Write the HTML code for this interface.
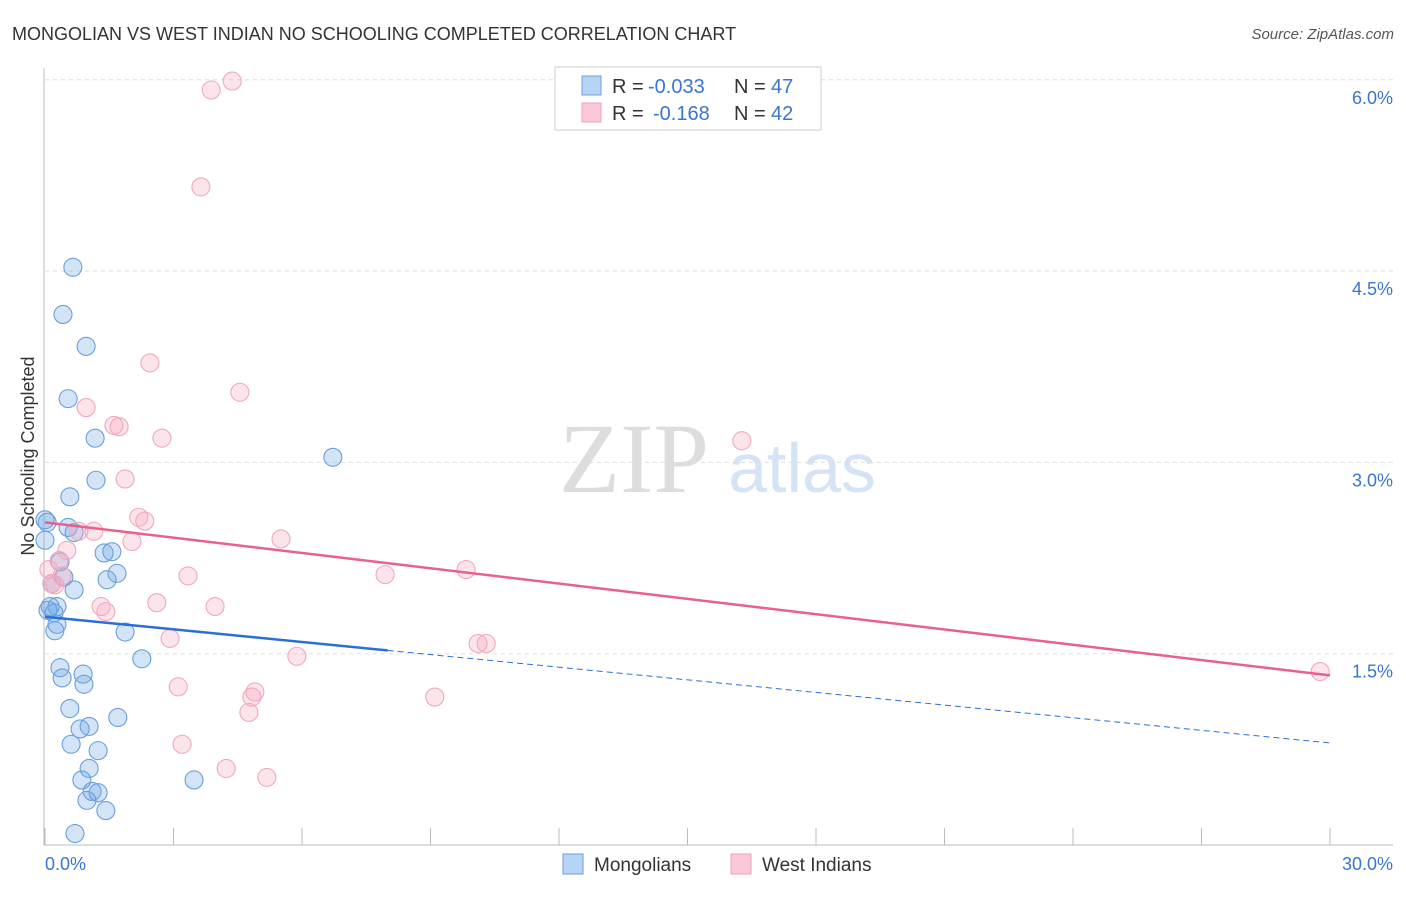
<!DOCTYPE html>
<html><head><meta charset="utf-8"><style>
body{margin:0;background:#fff;font-family:"Liberation Sans",sans-serif;}
svg text{font-family:"Liberation Sans",sans-serif;}
</style></head><body>
<svg id="chart" width="1406" height="892" xmlns="http://www.w3.org/2000/svg">
<text x="12" y="40" font-size="18" fill="#333">MONGOLIAN VS WEST INDIAN NO SCHOOLING COMPLETED CORRELATION CHART</text>
<text x="1394" y="39" font-size="15" fill="#555" font-style="italic" text-anchor="end">Source: ZipAtlas.com</text>
<text x="634" y="492" font-size="100" fill="#ddd" style="font-family:'Liberation Serif',serif" text-anchor="middle">ZIP</text>
<text x="802" y="492" font-size="70" fill="#d4e3f6" text-anchor="middle">atlas</text>
<text transform="translate(34,456) rotate(-90)" font-size="18" fill="#333" text-anchor="middle">No Schooling Completed</text>
<g id="grid"></g><g id="pts"></g><g id="trend"></g>
<g>
<rect x="555" y="67" width="266" height="63" fill="#fff" stroke="#ccc"/>
<rect x="582" y="76" width="19" height="19" fill="#b8d4f5" stroke="#6a9fdc"/>
<rect x="582" y="103" width="19" height="19" fill="#fac8d8" stroke="#eea0b8"/>
<text x="612" y="93" font-size="20" fill="#333">R =</text>
<text x="648" y="93" font-size="20" fill="#3a75d0">-0.033</text>
<text x="734" y="93" font-size="20" fill="#333">N =</text>
<text x="771" y="93" font-size="20" fill="#3a75d0">47</text>
<text x="612" y="120" font-size="20" fill="#333">R =</text>
<text x="653" y="120" font-size="20" fill="#3a75d0">-0.168</text>
<text x="734" y="120" font-size="20" fill="#333">N =</text>
<text x="771" y="120" font-size="20" fill="#3a75d0">42</text>
</g>
<g>
<rect x="563" y="854" width="20" height="20" fill="#b8d4f5" stroke="#6a9fdc"/>
<text x="594" y="871" font-size="19" fill="#333">Mongolians</text>
<rect x="731" y="854" width="20" height="20" fill="#fac8d8" stroke="#eea0b8"/>
<text x="762" y="871" font-size="19" fill="#333">West Indians</text>
</g>
</svg>
<script>
const yTicks=[1.5,3.0,4.5,6.0];
const yTickLabels=["1.5%","3.0%","4.5%","6.0%"];
const xTickLabels=["0.0%","30.0%"];
const mongX=[0.65,0.42,0.96,0.54,1.17,6.72,1.19,0.58,0.05,0.54,0.68,0.0,1.38,1.56,0.35,1.68,0.44,1.45,0.16,0.68,0.12,0.28,0.21,0.28,0.23,1.87,2.26,0.35,0.89,0.40,0.91,0.58,1.70,0.82,1.03,0.61,1.24,1.03,0.86,3.48,1.10,1.24,0.98,1.42,0.70,0.0,0.07];
const mongY=[4.53,4.16,3.91,3.50,3.19,3.04,2.86,2.73,2.53,2.49,2.45,2.39,2.29,2.30,2.22,2.13,2.10,2.08,2.05,2.00,1.87,1.87,1.82,1.73,1.68,1.67,1.46,1.39,1.34,1.31,1.26,1.07,1.00,0.91,0.93,0.79,0.74,0.60,0.51,0.51,0.42,0.41,0.35,0.27,0.09,2.55,1.84];
const wiX=[4.37,3.88,3.64,2.45,4.55,0.96,1.61,1.73,2.73,16.27,1.87,2.19,2.33,0.79,1.14,2.03,5.51,0.51,0.33,0.09,0.40,3.34,7.94,9.83,0.16,0.23,2.61,1.31,3.97,1.42,2.92,10.11,10.30,5.88,3.11,4.90,4.83,9.10,4.76,3.20,4.23,5.18,29.77];
const wiY=[5.99,5.92,5.16,3.78,3.55,3.43,3.29,3.28,3.19,3.17,2.87,2.57,2.54,2.46,2.46,2.38,2.40,2.31,2.23,2.16,2.11,2.11,2.12,2.16,2.05,2.04,1.90,1.87,1.87,1.83,1.62,1.58,1.58,1.48,1.24,1.20,1.16,1.16,1.04,0.79,0.60,0.53,1.36];
const mongTrend=[1.79,0.80];
const wiTrend=[2.53,1.33];
const X=v=>45+v/30*1285, Y=v=>845-v/1.5*191.3;
const NS='http://www.w3.org/2000/svg';
function mk(t,a,p){const e=document.createElementNS(NS,t);for(const k in a)e.setAttribute(k,a[k]);p.appendChild(e);return e;}
const g=document.getElementById('grid');
let ax=mk('line',{x1:44,y1:68,x2:44,y2:845,stroke:'#bbb'},g);


let bx=mk('line',{x1:44,y1:845,x2:1393,y2:845,stroke:'#bbb'},g);


yTicks.forEach((t,i)=>{
 const l=mk('line',{x1:45,x2:1393,y1:Y(t),y2:Y(t),stroke:'#ddd','stroke-dasharray':'4,4'},g);
 
 
 const tx=mk('text',{x:1393,y:Y(t)+24,'font-size':18,fill:'#3a75d0','text-anchor':'end'},g);
 tx.textContent=yTickLabels[i];
 
 
});
for(let k=0;k<=10;k++){
 const l=mk('line',{x1:X(k*3),x2:X(k*3),y1:828,y2:845,stroke:'#bbb'},g);
 
 
}
[[0,45,'start'],[30,1393,'end']].forEach((d,i)=>{
 const tx=mk('text',{x:d[1],y:870,'font-size':18,fill:'#3a75d0','text-anchor':d[2]},g);
 tx.textContent=xTickLabels[i];
 
 
});
const p=document.getElementById('pts');
function pts(xs,ys,fill,stroke,name){xs.forEach((x,i)=>{
 const c=mk('circle',{cx:X(x),cy:Y(ys[i]),r:9,fill:fill,stroke:stroke,'stroke-width':1.1},p);
 
 
});}
pts(mongX,mongY,'rgba(110,165,230,0.3)','#6a9fdc','mongolian-point');
pts(wiX,wiY,'rgba(245,165,190,0.3)','#f0a8be','west-indian-point');
const tr=document.getElementById('trend');
const ym=x=>mongTrend[0]+(mongTrend[1]-mongTrend[0])*x/30;
let t1=mk('line',{x1:X(0),y1:Y(ym(0)),x2:X(8),y2:Y(ym(8)),stroke:'#2a6fd6','stroke-width':2.5},tr);


let t2=mk('line',{x1:X(8),y1:Y(ym(8)),x2:X(30),y2:Y(ym(30)),stroke:'#2a6fd6','stroke-width':1,'stroke-dasharray':'6,4'},tr);


let t3=mk('line',{x1:X(0),y1:Y(wiTrend[0]),x2:X(30),y2:Y(wiTrend[1]),stroke:'#e8608c','stroke-width':2.5},tr);


</script>
</body></html>
